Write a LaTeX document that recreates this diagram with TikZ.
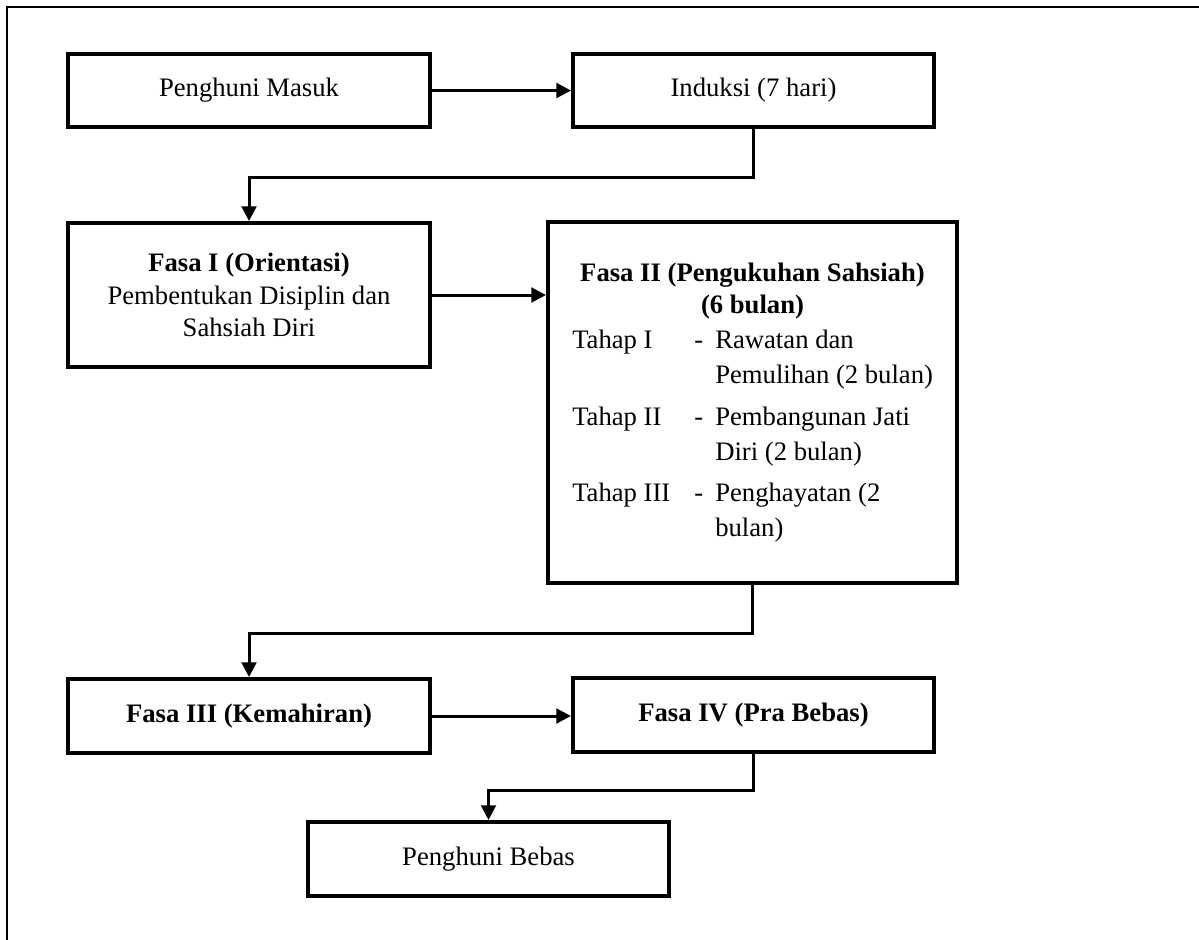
\documentclass[tikz,border=0pt]{standalone}
\usepackage{fontspec}
\setmainfont{Liberation Serif}
\usetikzlibrary{arrows.meta}
\begin{document}
\begin{tikzpicture}[x=0.75pt,y=-0.75pt,
  box/.style={draw,line width=3pt,inner sep=0pt,align=center,
    font=\fontsize{20pt}{24.5pt}\selectfont},
  txt/.style={inner sep=0pt,anchor=base west,font=\fontsize{20pt}{24pt}\selectfont},
  ttl/.style={inner sep=0pt,anchor=base,font=\fontsize{20pt}{24pt}\selectfont\bfseries},
  arr/.style={line width=2.25pt,-{Triangle[length=11pt,width=11pt]}}]
\useasboundingbox (0,0) rectangle (1199,939);
\draw[line width=1.5pt] (1205,7) -- (7,7) -- (7,945);
\node[box,minimum width=271.5pt,minimum height=54.75pt] (b1) at (249,90.5) {Penghuni Masuk};
\node[box,minimum width=270.75pt,minimum height=54.75pt] (b2) at (753.5,90.5) {Induksi (7 hari)};
\node[box,minimum width=271.5pt,minimum height=108pt] (b3) at (249,295) {\textbf{Fasa I (Orientasi)}\\Pembentukan Disiplin dan\\Sahsiah Diri};
\node[box,minimum width=306.75pt,minimum height=270.75pt] (b4) at (752.5,402.5) {};
\node[box,minimum width=271.5pt,minimum height=55.5pt] (b5) at (249,716) {\textbf{Fasa III (Kemahiran)}};
\node[box,minimum width=270.75pt,minimum height=55.5pt] (b6) at (753.5,715) {\textbf{Fasa IV (Pra Bebas)}};
\node[box,minimum width=270.75pt,minimum height=55.5pt] (b7) at (488.5,859) {Penghuni Bebas};
% Fasa II content
\node[ttl] (t1) at (752.5,281) {Fasa II (Pengukuhan Sahsiah)};
\node[ttl] (t2) at (752.5,313) {(6 bulan)};
\node[txt] (s1) at (572,348) {Tahap I};
\node[txt] (d1) at (694,348) {-};
\node[txt] (r1) at (715,348) {Rawatan dan};
\node[txt] (r1b) at (715,383) {Pemulihan (2 bulan)};
\node[txt] (s2) at (572,425) {Tahap II};
\node[txt] (d2) at (694,425) {-};
\node[txt] (r2) at (715,425) {Pembangunan Jati};
\node[txt] (r2b) at (715,460) {Diri (2 bulan)};
\node[txt] (s3) at (572,501) {Tahap III};
\node[txt] (d3) at (694,501) {-};
\node[txt] (r3) at (715,501) {Penghayatan (2};
\node[txt] (r3b) at (715,536) {bulan)};
% connectors
\draw[arr] (b1.east) -- (b2.west);
\draw[arr] (b2.south) -- ++(0,48) -| (b3.north);
\draw[arr] (b3.east) -- (b3.east -| b4.west);
\draw[arr] (b4.south) -- ++(0,48) -| (b5.north);
\draw[arr] (b5.east) -- (b5.east -| b6.west);
\draw[arr] (b6.south) -- ++(0,36) -| (b7.north);
\end{tikzpicture}
\end{document}
